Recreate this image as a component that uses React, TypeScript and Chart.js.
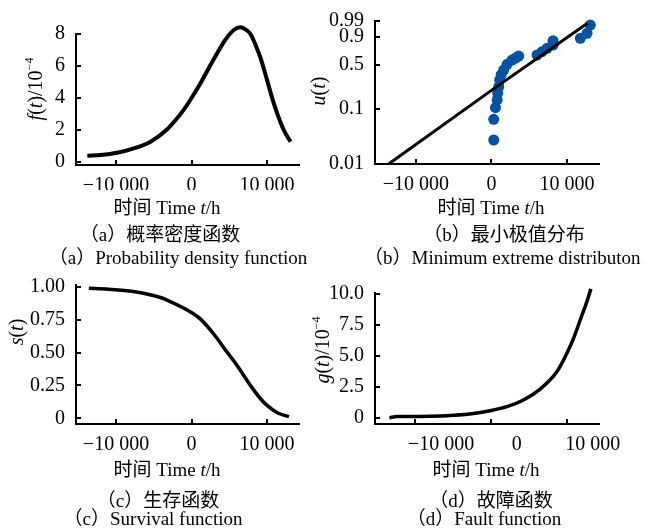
import React, { useEffect, useRef, useState } from "react";
import { Chart, registerables } from "chart.js";
Chart.register(...registerables);

const SERIF = '"Liberation Serif", "Times New Roman", serif';
const MIXED = '"Liberation Serif", "Noto Sans CJK SC", serif';

// shared x axis ticks
const xTickValues = [-10000, 0, 10000];
const xTickLabels = ["\u221210 000", "0", "10 000"];

// (a) probability density function, f(t) in 1e-4
const pdfTime = [-13800, -12050, -9840, -7640, -5430, -3220, -2100, -1020, 0, 1190, 2300, 3400, 4500, 5600, 6490, 7100, 7810, 8500, 9140, 10020, 10900, 12220, 13110];
const pdfValue = [0.39, 0.44, 0.58, 0.85, 1.27, 2.05, 2.62, 3.27, 4.0, 4.92, 5.88, 6.8, 7.65, 8.25, 8.42, 8.3, 8.0, 7.3, 6.5, 5.1, 3.67, 2.0, 1.27];
const pdfTicks = [0, 2, 4, 6, 8];
const pdfTickLabels = ["0", "2", "4", "6", "8"];

// (b) minimum extreme value probability plot
const fitTime = [-13600, 0, 12700];
const fitProb = [0.01, 0.21, 0.985];
const obsTime = [304, 304, 528, 753, 832, 964, 1096, 1281, 1625, 2074, 2734, 3200, 3606, 6037, 6697, 7358, 8150, 8150, 11757, 12642, 13078];
const obsProb = [0.0277, 0.066, 0.106, 0.145, 0.188, 0.241, 0.308, 0.366, 0.431, 0.513, 0.579, 0.61, 0.642, 0.658, 0.709, 0.76, 0.807, 0.862, 0.888, 0.934, 0.979];
const probTicks = [0.01, 0.1, 0.5, 0.9, 0.99];
const probTickLabels = ["0.01", "0.1", "0.5", "0.9", "0.99"];

// (c) survival function
const survTime = [-13600, -11000, -7700, -4130, -3240, 0, 1200, 2970, 4760, 5640, 6530, 7870, 9200, 10000, 11430, 12900];
const survValue = [0.99, 0.983, 0.965, 0.92, 0.9, 0.806, 0.755, 0.64, 0.5, 0.435, 0.36, 0.245, 0.145, 0.098, 0.04, 0.012];
const survTicks = [0, 0.25, 0.5, 0.75, 1];
const survTickLabels = ["0", "0.25", "0.50", "0.75", "1.00"];

// (d) fault (hazard) function, g(t) in 1e-4
const faultTime = [-13380, -12400, -9330, -6690, -4930, -2290, -90, 2110, 4300, 6500, 8700, 10020, 10900, 11780, 12660, 13190];
const faultValue = [0.02, 0.12, 0.13, 0.16, 0.22, 0.37, 0.59, 0.91, 1.45, 2.33, 3.72, 5.2, 6.4, 7.88, 9.36, 10.38];
const faultTicks = [0, 2.5, 5, 7.5, 10];
const faultTickLabels = ["0", "2.5", "5.0", "7.5", "10.0"];

const gumbel = (p: number) => Math.log(-Math.log(1 - p));
const toXY = (xs: number[], ys: number[], f: (v: number) => number = (v) => v) =>
  xs.map((x, i) => ({ x, y: f(ys[i]) }));

const TICK = 5;

type Spec = {
  left: number; top: number; width: number; height: number;
  area: { l: number; r: number; t: number; b: number };
  xMin: number; xMax: number; yMin: number; yMax: number;
  yTicks: number[]; yLabels: string[]; makeDatasets: () => any[]; labelOffset?: number;
};

type Marks = { l: number; r: number; t: number; b: number; xs: number[]; ys: number[] };

function Panel({ spec }: { spec: Spec }) {
  const ref = useRef<HTMLCanvasElement>(null);
  const [marks, setMarks] = useState<Marks | null>(null);
  useEffect(() => {
    const s = spec;
    const chart = new Chart(ref.current as HTMLCanvasElement, {
      type: "scatter",
      data: { datasets: s.makeDatasets() },
      options: {
        animation: false,
        responsive: false,
        devicePixelRatio: 1,
        layout: { padding: { left: 0, top: s.area.t, right: s.width - s.area.r, bottom: 0 } },
        plugins: { legend: { display: false }, tooltip: { enabled: false } },
        scales: {
          x: {
            type: "linear",
            min: s.xMin,
            max: s.xMax,
            grid: { display: false },
            border: { display: false },
            afterBuildTicks: (sc: any) => { sc.ticks = xTickValues.map((v) => ({ value: v })); },
            afterFit: (sc: any) => { sc.height = s.height - s.area.b; },
            ticks: {
              autoSkip: false,
              maxRotation: 0,
              padding: 1,
              color: "#000",
              labelOffset: s.labelOffset || 0,
              font: { family: SERIF, size: 20 },
              callback: (_v: any, i: number) => xTickLabels[i],
            },
          },
          y: {
            type: "linear",
            min: s.yMin,
            max: s.yMax,
            grid: { display: false },
            border: { display: false },
            afterBuildTicks: (sc: any) => { sc.ticks = s.yTicks.map((v) => ({ value: v })); },
            afterFit: (sc: any) => { sc.width = s.area.l; },
            ticks: {
              autoSkip: false,
              padding: 3,
              color: "#000",
              font: { family: SERIF, size: 20 },
              callback: (_v: any, i: number) => s.yLabels[i],
            },
          },
        },
      } as any,
    });
    // axis frame and inward tick marks placed from the chart's own scales
    const ca = chart.chartArea;
    const sx: any = chart.scales.x;
    const sy: any = chart.scales.y;
    setMarks({
      l: ca.left, r: ca.right, t: ca.top, b: ca.bottom,
      xs: xTickValues.map((v) => sx.getPixelForValue(v)),
      ys: s.yTicks.map((v) => sy.getPixelForValue(v)),
    });
    return () => chart.destroy();
  }, []);
  const bar = (left: number, top: number, width: number, height: number, key: string) => (
    <div key={key} style={{ position: "absolute", left, top, width, height, background: "#000" }} />
  );
  return (
    <div style={{ position: "absolute", left: spec.left, top: spec.top, width: spec.width, height: spec.height }}>
      <canvas ref={ref} width={spec.width} height={spec.height} style={{ display: "block" }} />
      {marks && (
        <>
          {bar(marks.l - 1, marks.t - 1, 2, marks.b - marks.t + 2, "yaxis")}
          {bar(marks.l - 1, marks.b - 1, marks.r - marks.l + 1, 2, "xaxis")}
          {marks.ys.map((py, i) => bar(marks.l, py - 1, TICK, 2, "yt" + i))}
          {marks.xs.map((px, i) => bar(px - 1, marks.b - TICK, 2, TICK, "xt" + i))}
        </>
      )}
    </div>
  );
}

const curve = (data: any[], width = 3.5) => ({
  data,
  showLine: true,
  borderColor: "#000",
  borderWidth: width,
  pointRadius: 0,
  cubicInterpolationMode: "monotone",
  clip: false,
});

function Txt({ x, y, size = 19, rotate = false, left = false, children }: any) {
  return (
    <div
      style={{
        position: "absolute",
        left: x,
        top: y,
        transform: left ? "translateY(-50%)" : rotate ? "translate(-50%,-50%) rotate(-90deg)" : "translate(-50%,-50%)",
        whiteSpace: "nowrap",
        fontFamily: MIXED,
        fontSize: size,
        lineHeight: 1,
        color: "#000",
      }}
    >
      {children}
    </div>
  );
}

const sup = { fontSize: "0.6em", verticalAlign: "0.7em" };

const specA: Spec = {
  left: 0, top: 0, width: 320, height: 190,
  area: { l: 76, r: 300, t: 34, b: 165 },
  xMin: -15300, xMax: 14370, yMin: -0.19, yMax: 8,
  yTicks: pdfTicks, yLabels: pdfTickLabels,
  makeDatasets: () => [curve(toXY(pdfTime, pdfValue), 4)],
};
const specB: Spec = {
  left: 320, top: 0, width: 325, height: 190,
  area: { l: 55, r: 280, t: 21, b: 164 },
  xMin: -15400, xMax: 14360, yMin: gumbel(0.01), yMax: gumbel(0.99),
  yTicks: probTicks.map(gumbel), yLabels: probTickLabels,
  makeDatasets: () => [
    { ...curve(toXY(fitTime, fitProb, gumbel), 3), cubicInterpolationMode: "default", tension: 0 },
    {
      data: toXY(obsTime, obsProb, gumbel),
      showLine: false,
      pointRadius: 5.5,
      pointBackgroundColor: "#0052A4",
      pointBorderWidth: 0,
      clip: false,
    },
  ],
};
const specC: Spec = {
  left: 0, top: 270, width: 320, height: 190,
  area: { l: 76, r: 300, t: 15, b: 154 },
  xMin: -15300, xMax: 14370, yMin: -0.0435, yMax: 1.015,
  yTicks: survTicks, yLabels: survTickLabels,
  makeDatasets: () => [curve(toXY(survTime, survValue), 3.5)],
};
const specD: Spec = {
  left: 320, top: 270, width: 325, height: 190,
  area: { l: 55, r: 280, t: 23, b: 154 },
  xMin: -15280, xMax: 14390, yMin: -0.48, yMax: 10.05,
  yTicks: faultTicks, yLabels: faultTickLabels,
  labelOffset: 26,
  makeDatasets: () => [curve(toXY(faultTime, faultValue), 3.5)],
};

export default function App() {
  return (
    <div style={{ position: "absolute", left: 0, top: 0, width: 645, height: 529, background: "#fff", overflow: "hidden" }}>
      <Panel spec={specA} />
      <Panel spec={specB} />
      <Panel spec={specC} />
      <Panel spec={specD} />

      <Txt x={34} y={88.5} size={20} rotate><i>f</i>(<i>t</i>)/10<span style={sup}>−4</span></Txt>
      <Txt x={318} y={91} size={20} rotate><i>u</i>(<i>t</i>)</Txt>
      <Txt x={16} y={332} size={20} rotate><i>s</i>(<i>t</i>)</Txt>
      <Txt x={321} y={350} size={20} rotate><i>g</i>(<i>t</i>)/10<span style={sup}>−4</span></Txt>

      <Txt x={167} y={207}>时间 Time <i>t</i>/h</Txt>
      <Txt x={491} y={207}>时间 Time <i>t</i>/h</Txt>
      <Txt x={167} y={469}>时间 Time <i>t</i>/h</Txt>
      <Txt x={486} y={469}>时间 Time <i>t</i>/h</Txt>

      <Txt x={160} y={234}>（a）概率密度函数</Txt>
      <Txt x={178} y={257}>（a）Probability density function</Txt>
      <Txt x={504} y={234}>（b）最小极值分布</Txt>
      <Txt x={364} y={257} left>（b）Minimum extreme distributon</Txt>
      <Txt x={158} y={500}>（c）生存函数</Txt>
      <Txt x={153} y={518}>（c）Survival function</Txt>
      <Txt x={491} y={500}>（d）故障函数</Txt>
      <Txt x={484} y={518}>（d）Fault function</Txt>
    </div>
  );
}
